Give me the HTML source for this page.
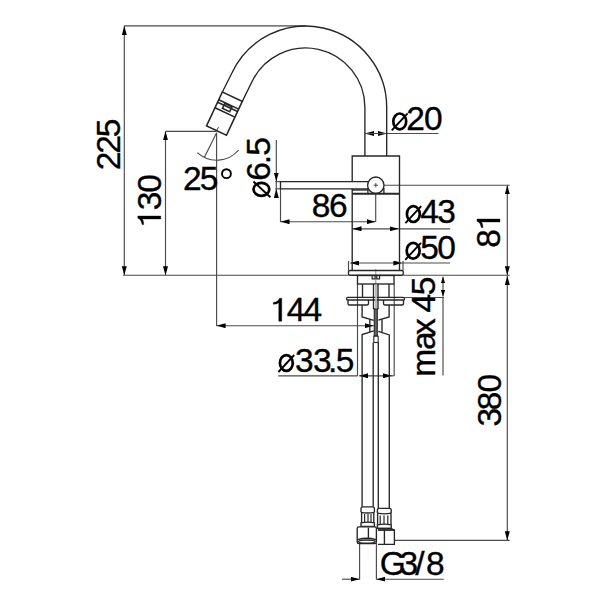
<!DOCTYPE html>
<html><head><meta charset="utf-8"><style>
html,body{margin:0;padding:0;background:#fff;width:600px;height:600px;overflow:hidden}
svg{display:block}
text{font-family:"Liberation Sans",sans-serif;fill:#000}
</style></head><body>
<svg width="600" height="600" viewBox="0 0 600 600">
<defs>
<marker id="ah" viewBox="0 0 9 5" refX="9" refY="2.5" markerWidth="9" markerHeight="5" markerUnits="userSpaceOnUse" orient="auto-start-reverse"><path d="M0,0 L9,2.5 L0,5 z" fill="#000"/></marker>
<marker id="ahs" viewBox="0 0 6.5 4.4" refX="6.5" refY="2.2" markerWidth="6.5" markerHeight="4.4" markerUnits="userSpaceOnUse" orient="auto-start-reverse"><path d="M0,0 L6.5,2.2 L0,4.4 z" fill="#000"/></marker>
</defs>
<g fill="none" stroke="#4a4a4a" stroke-width="1.15">
<!-- 225 -->
<line x1="124.3" y1="26" x2="124.3" y2="275.2" marker-start="url(#ah)" marker-end="url(#ah)"/>
<line x1="124" y1="25.8" x2="306" y2="25.8"/>
<!-- 130 -->
<line x1="165.5" y1="131.3" x2="165.5" y2="275.2" marker-start="url(#ah)" marker-end="url(#ah)"/>
<line x1="165.5" y1="131.3" x2="216.5" y2="131.3"/>
<!-- baseline -->
<line x1="123" y1="275.2" x2="348.5" y2="275.2"/>
<line x1="403.3" y1="275.2" x2="509.7" y2="275.2"/>
<!-- 144 -->
<line x1="216.6" y1="132.5" x2="216.6" y2="326"/>
<line x1="216.6" y1="325.7" x2="373.8" y2="325.7" marker-start="url(#ah)" marker-end="url(#ah)"/>
<!-- angle -->
<line x1="216.5" y1="133" x2="204.3" y2="157.4"/>
<path d="M197.3,152.7 A28.8,28.8 0 0 0 238.7,150"/>
<!-- 6.5 -->
<line x1="276.3" y1="140" x2="276.3" y2="181.5" marker-end="url(#ah)"/>
<line x1="276.3" y1="197.3" x2="276.3" y2="189" marker-end="url(#ah)"/>
<line x1="275.3" y1="181.6" x2="280.5" y2="181.6"/>
<line x1="276.3" y1="181.6" x2="276.3" y2="188.8"/>
<line x1="275.3" y1="188.8" x2="280.5" y2="188.8"/>
<!-- 86 -->
<line x1="280.5" y1="188.8" x2="280.5" y2="222"/>
<line x1="280.5" y1="221.7" x2="375.5" y2="221.7" marker-start="url(#ah)" marker-end="url(#ah)"/>
<line x1="375.7" y1="193" x2="375.7" y2="222"/>
<!-- 20 -->
<line x1="374" y1="133.5" x2="365" y2="133.5" marker-end="url(#ah)"/>
<line x1="377.7" y1="133.5" x2="386.7" y2="133.5" marker-end="url(#ah)"/>
<line x1="365" y1="133.5" x2="438.5" y2="133.5"/>
<!-- 81 -->
<line x1="384" y1="185.2" x2="509.7" y2="185.2"/>
<line x1="507.3" y1="185.2" x2="507.3" y2="275.2" marker-start="url(#ah)" marker-end="url(#ah)"/>
<!-- 43 -->
<line x1="352.5" y1="228.8" x2="398.7" y2="228.8" marker-start="url(#ah)" marker-end="url(#ah)"/>
<line x1="398.7" y1="228.8" x2="450.2" y2="228.8"/>
<!-- 50 -->
<line x1="348.5" y1="261" x2="348.5" y2="270.5"/>
<line x1="403" y1="261" x2="403" y2="270.5"/>
<line x1="350.3" y1="263" x2="402.4" y2="263" marker-start="url(#ah)" marker-end="url(#ah)"/>
<line x1="402.4" y1="263" x2="450" y2="263"/>
<!-- max 45 -->
<line x1="404.5" y1="297.5" x2="444" y2="297.5"/>
<line x1="443" y1="276.8" x2="443" y2="296.5" marker-start="url(#ahs)" marker-end="url(#ahs)"/>
<line x1="443" y1="297" x2="443" y2="375.5"/>
<!-- 33.5 -->
<line x1="357.5" y1="284" x2="357.5" y2="376"/>
<line x1="394.2" y1="284" x2="394.2" y2="376"/>
<line x1="278.3" y1="375.8" x2="357.5" y2="375.8"/>
<line x1="359.2" y1="375.8" x2="392" y2="375.8" marker-start="url(#ah)" marker-end="url(#ah)"/>
<line x1="392" y1="375.8" x2="394.2" y2="375.8"/>
<!-- 380 -->
<line x1="394.7" y1="540.3" x2="509.7" y2="540.3"/>
<line x1="507.3" y1="276" x2="507.3" y2="540.3" marker-start="url(#ah)" marker-end="url(#ah)"/>
<!-- G3/8 -->
<line x1="359.6" y1="543" x2="359.6" y2="579.4"/>
<line x1="376.4" y1="543" x2="376.4" y2="579.4"/>
<line x1="342" y1="579.2" x2="359.6" y2="579.2" marker-end="url(#ah)"/>
<line x1="443.8" y1="579.2" x2="376.4" y2="579.2" marker-end="url(#ah)"/>
<!-- center line -->
<line x1="375.8" y1="269" x2="375.8" y2="300" stroke-width="0.6"/>
</g>

<g fill="none" stroke="#262626" stroke-width="1.35">
<!-- spout -->
<path d="M222.35,92.07 L231.9,73.0 A81.2,81.2 0 0 1 386.7,107.3 L386.7,156"/>
<path d="M242.3,101.4 L251.7,82.2 A59.4,59.4 0 0 1 364.9,107.3 L364.9,156"/>
<!-- nozzle -->
<g transform="translate(216.5,130.6) rotate(25)" stroke-width="1.6">
<path d="M-11,0 L11,0 L11,-37.4 L-11,-37.4 Z"/>
<line x1="-11" y1="-20" x2="11" y2="-20"/>
<line x1="-11" y1="-26.2" x2="11" y2="-26.2"/>
<line x1="-11" y1="-28.8" x2="11" y2="-28.8"/>
<rect x="-4" y="-28" width="8" height="5.3"/>
<line x1="0.3" y1="0" x2="0.3" y2="-4" stroke-width="0.8"/>
</g>
<!-- body -->
<path d="M352.2,270.5 L352.2,156 L399.5,156 L399.5,270.5"/>
<path d="M368.2,181.6 H280.5 V188.8 H367.8" fill="#fff"/>
<line x1="352.2" y1="190" x2="367.6" y2="190"/>
<circle cx="375.8" cy="185.2" r="8.2"/>
<line x1="352.2" y1="193.7" x2="399.5" y2="193.7" stroke-width="2"/>
<line x1="367.9" y1="188" x2="367.9" y2="193"/>
<line x1="383.9" y1="188" x2="383.9" y2="193"/>
<line x1="373.6" y1="185.2" x2="378" y2="185.2" stroke-width="0.8"/>
<line x1="375.8" y1="183" x2="375.8" y2="187.4" stroke-width="0.8"/>
<!-- base plate -->
<rect x="348.5" y="270.5" width="54.8" height="4.7" rx="1.5"/>
<!-- nut 1 -->
<rect x="357.5" y="275.5" width="36.5" height="8.5"/>
<path d="M372.2,275.8 v3 h2.8 v-3 M376.8,275.8 v3 h2.8 v-3" stroke-width="1.2"/>
<line x1="362.5" y1="284" x2="362.5" y2="297.5"/>
<line x1="389" y1="284" x2="389" y2="297.5"/>
<line x1="373.5" y1="284" x2="373.5" y2="309"/>
<line x1="378" y1="284" x2="378" y2="309"/>
<!-- washer -->
<rect x="346.5" y="297.3" width="58" height="2.7" rx="1.2"/>
<path d="M348,300 V303.5 Q348,305 349.5,305 H367 Q368.5,305 368.5,303.5 V300"/>
<path d="M383.5,300 V303.5 Q383.5,305 385,305 H402 Q403.5,305 403.5,303.5 V300"/>
<!-- nut 2 shape -->
<path d="M362.1,305.3 V316.9 L373.8,320.3 M369.8,319.2 V331.6 M373.8,330.9 L362.1,334.5 V506.8"/>
<path d="M389.1,305.3 V316.9 L378.3,320.1 M382,319.4 V331.8 M378.3,331.3 L389.3,334.9 V508.4"/>
<line x1="373.5" y1="309" x2="378.3" y2="309"/>
<rect x="374.3" y="309" width="3" height="27" fill="#666" stroke-width="1.1"/>
<rect x="373.8" y="336.2" width="4.4" height="6.3" fill="#fff" stroke-width="1.1"/>
<line x1="373.2" y1="342.5" x2="373.2" y2="506.8"/>
<line x1="378.3" y1="342.5" x2="378.3" y2="508.4"/>
<!-- ferrules & nuts -->
<!-- right hose (behind) -->
<path d="M377.4,513 V510 Q377.4,508.4 379.2,508.4 H389.4 Q391.2,508.4 391.2,510 V513"/>
<path d="M377.4,513.2 Q384.3,514.6 391.2,513.2"/>
<path d="M377.6,513.2 V524.8 M391,513.2 V524.8"/>
<path d="M380.2,515.5 V524.5 M384,515.5 V524.5 M387.8,515.5 V524.5" stroke-width="1.2"/>
<path d="M377.4,524.8 Q384.3,523.4 391.2,524.8 V528.4 H377.4 Z"/>
<path d="M378,528.4 H391 L394.4,530.2 V544.4 H378" />
<line x1="378" y1="530" x2="394.4" y2="530" stroke-width="1.8"/>
<line x1="384.4" y1="530" x2="384.4" y2="544.4"/>
<!-- left hose (front) -->
<path d="M361,512.3 V508.6 Q361,506.8 362.8,506.8 H372.6 Q374.4,506.8 374.4,508.6 V512.3"/>
<path d="M361,512.3 Q367.7,513.8 374.4,512.3"/>
<path d="M361.6,512.5 V522.8 M373.8,512.5 V522.8"/>
<path d="M364.6,514 V522.5 M368,514 V522.5 M371,514 V522.5" stroke-width="1.2"/>
<path d="M361,522.8 Q367.7,521.4 374.4,522.8 V526.4 H361 Z"/>
<rect x="357.2" y="526.8" width="19.2" height="16.8" rx="1.6" fill="#fff"/>
<line x1="368.4" y1="527.6" x2="368.4" y2="539.2"/>
<path d="M357.4,539.6 Q366.8,537 376.2,539.6" stroke-width="1.5"/>
<ellipse cx="366.8" cy="541.6" rx="8.4" ry="1.7" stroke-width="1.5"/>
</g>
<rect x="375" y="284.5" width="2" height="24" fill="#bbb"/>

<!-- texts -->
<defs><g id="os"><ellipse cx="8.45" cy="-8.6" rx="6.45" ry="7.9" fill="none" stroke="#000" stroke-width="2.7"/><line x1="0.5" y1="0.4" x2="16.3" y2="-16.6" stroke="#000" stroke-width="1.9"/></g>
<path id="one" d="M3,0 V-23 H0.75 Q-0.25,-19.6 -5.5,-18.75 V-17 Q-1.8,-17 0,-18.5 V0 Z"/></defs>
<g font-size="33.5" stroke="#000" stroke-width="0.35">
<use href="#one" x="278.75" y="321.25"/>
<text x="286.8 303.6" y="321.25">44</text>
<use href="#os" x="277.9" y="371.6"/><text x="295.0 313.0 327.9 335.7" y="371.5">33.5</text>
<text x="379.8 399.5 415.3 426.1" y="575.2">G3/8</text>
<use href="#os" x="391.3" y="130"/><text x="406.3 424.0" y="130">20</text>
<use href="#os" x="404.9" y="222.7"/><text x="420.2 437.2" y="222.7">43</text>
<use href="#os" x="404.7" y="259.4"/><text x="420.3 437.2" y="259.4">50</text>
<text x="311.8 329.05" y="217.3">86</text>
<text x="183.0 199.7" y="190.2">25</text>
<circle cx="226.45" cy="173.65" r="4.45" fill="none" stroke="#000" stroke-width="1.9"/>
<text transform="translate(120,600) rotate(-90)" x="429.8 446.3 462.66" y="0">225</text>
<g transform="translate(160.8,600) rotate(-90)">
<use href="#one" x="381" y="0"/>
<text x="389.7 407.2" y="0">30</text>
</g>
<g transform="translate(270,600) rotate(-90)"><use href="#os" x="402.2" y="0"/><text x="419.2 435.75 444.3" y="0">6.5</text></g>
<g transform="translate(500,600) rotate(-90)">
<text x="352.24" y="0">8</text>
<use href="#one" x="378" y="0"/>
</g>
<text transform="translate(500.7,600) rotate(-90)" x="173.4 189.8 207.5" y="0">380</text>
<text transform="translate(434.5,600) rotate(-90)" x="223.3 250.1 265.1 287.5 304.8" y="0">max45</text>
</g>
</svg>
</body></html>
